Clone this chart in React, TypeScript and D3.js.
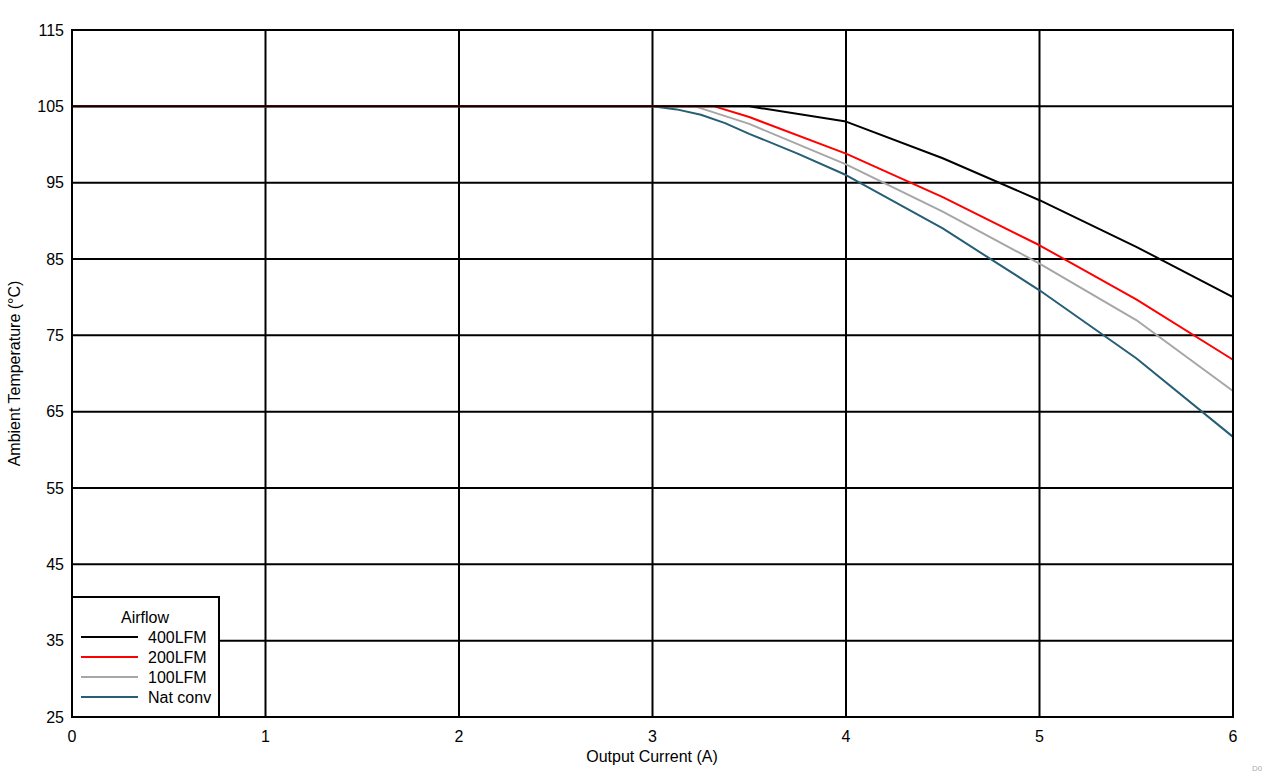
import React from "react";
import * as d3 from "d3";

const xTicks = [0, 1, 2, 3, 4, 5, 6];
const yTicks = [25, 35, 45, 55, 65, 75, 85, 95, 105, 115];

const seriesNames = ["400LFM", "200LFM", "100LFM", "Nat conv"];
const seriesColors = ["#000000", "#ff0000", "#a6a6a6", "#255e75"];

const lfm400: [number, number][] = [[0, 105], [3.5, 105], [4, 103.0], [4.5, 98.2], [5, 92.7], [5.5, 86.6], [6, 80.0]];
const lfm200: [number, number][] = [[0, 105], [3.32, 105], [3.5, 103.6], [4, 98.8], [4.5, 93.1], [5, 86.8], [5.5, 79.7], [6, 71.8]];
const lfm100: [number, number][] = [[0, 105], [3.22, 105], [3.5, 102.7], [4, 97.4], [4.5, 91.2], [5, 84.4], [5.5, 77.0], [6, 67.7]];
const natConv: [number, number][] = [[0, 105], [3, 105], [3.125, 104.6], [3.25, 103.9], [3.375, 102.8], [3.5, 101.4], [3.75, 98.8], [4, 96.0], [4.5, 89.0], [5, 80.9], [5.5, 72.0], [6, 61.7]];

const seriesData = [lfm400, lfm200, lfm100, natConv];

export default function App() {
  const W = 1262, H = 776;
  const left = 72, right = 1233, top = 30, bottom = 717;
  const x = d3.scaleLinear().domain([0, 6]).range([left, right]);
  const y = d3.scaleLinear().domain([25, 115]).range([bottom, top]);
  const line = d3.line<[number, number]>().x(d => x(d[0])).y(d => y(d[1]));
  const font = "'Liberation Sans', Arial, sans-serif";

  const lgX = 72, lgY = 597, lgW = 147, lgH = 120;

  return (
    <svg width={W} height={H} style={{ position: "absolute", left: 0, top: 0, background: "#fff" }} fontFamily={font}>
      {xTicks.map(t => (
        <line key={"gx" + t} x1={x(t)} x2={x(t)} y1={top} y2={bottom} stroke="#000" strokeWidth={2} />
      ))}
      {yTicks.map(t => (
        <line key={"gy" + t} x1={left} x2={right} y1={y(t)} y2={y(t)} stroke="#000" strokeWidth={2} />
      ))}
      {seriesData.map((d, i) => (
        <path key={"s" + i} d={line(d) || ""} fill="none" stroke={seriesColors[i]} strokeWidth={2} strokeLinejoin="round" />
      )).reverse()}
      <rect x={left} y={top} width={right - left} height={bottom - top} fill="none" stroke="#000" strokeWidth={2} />
      {yTicks.map(t => (
        <text key={"ty" + t} x={64} y={y(t)} dy="0.35em" textAnchor="end" fontSize={16} fill="#000">{t}</text>
      ))}
      {xTicks.map(t => (
        <text key={"tx" + t} x={x(t)} y={742} textAnchor="middle" fontSize={16} fill="#000">{t}</text>
      ))}
      <text x={652} y={762} textAnchor="middle" fontSize={16} fill="#000">Output Current (A)</text>
      <text transform={`translate(20,${(top + bottom) / 2}) rotate(-90)`} textAnchor="middle" fontSize={16} fill="#000">Ambient Temperature (°C)</text>
      <g>
        <rect x={lgX} y={lgY} width={lgW} height={lgH} fill="#fff" stroke="#000" strokeWidth={2} />
        <text x={145} y={623} textAnchor="middle" fontSize={16} fill="#000">Airflow</text>
        {seriesNames.map((n, i) => (
          <g key={"lg" + i}>
            <line x1={81} x2={138} y1={637 + i * 20} y2={637 + i * 20} stroke={seriesColors[i]} strokeWidth={2} />
            <text x={148} y={637 + i * 20} dy="0.35em" fontSize={16} fill="#000">{n}</text>
          </g>
        ))}
      </g>
      <text x={1252} y={771} fontSize={8} fill="#aaa">D0</text>
    </svg>
  );
}
